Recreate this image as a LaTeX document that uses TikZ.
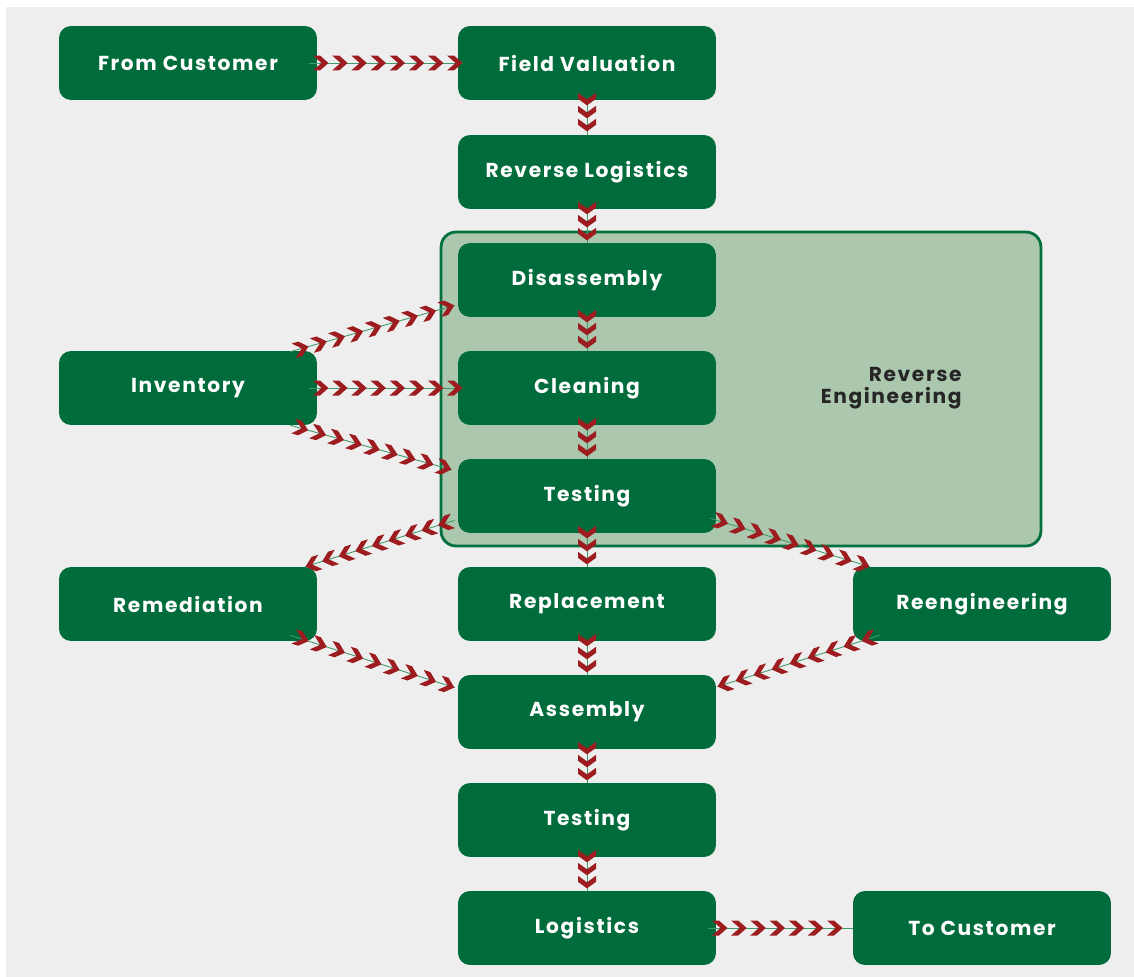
\documentclass[tikz,border=0pt]{standalone}
\usepackage{fontspec}
\setmainfont{Poppins}
\newfontfamily\boxfont{Poppins}[LetterSpace=8]
\usetikzlibrary{decorations.markings,calc}
\definecolor{bggray}{HTML}{EEEEEE}
\definecolor{boxgreen}{HTML}{006C3B}
\definecolor{regreen}{HTML}{ABC8AE}
\definecolor{reborder}{HTML}{00703C}
\definecolor{chevred}{HTML}{9C1C1F}
\definecolor{linegreen}{HTML}{3F9A6A}
% one chevron, tip at the mark
\newcommand\chevH{\fill[chevred] (0,0) -- (-0.17cm,0.15cm) -- (-0.31cm,0.15cm)
  -- (-0.14cm,0) -- (-0.31cm,-0.15cm) -- (-0.17cm,-0.15cm) -- cycle;}
\newcommand\chevV{\fill[chevred] (0,0) -- (-0.13cm,0.18cm) -- (-0.25cm,0.18cm)
  -- (-0.12cm,0) -- (-0.25cm,-0.18cm) -- (-0.13cm,-0.18cm) -- cycle;}
\tikzset{
  box/.style={fill=boxgreen,text=white,rounded corners=0.24cm,
    minimum width=5.16cm,minimum height=1.48cm,
    font=\boxfont\fontsize{11.5}{13}\selectfont\bfseries},
  hchain/.style={draw=linegreen,line width=0.5pt,postaction={decorate},
    decoration={markings,
      mark=between positions 0.999/#1 and 1 step 0.999/#1 with {\chevH}}},
  vchain/.style={draw=linegreen,line width=0.5pt,postaction={decorate},
    decoration={markings,
      mark=between positions 0.1cm and 1 step 0.26cm with {\chevV}}}
}
\begin{document}
\begin{tikzpicture}[x=0.02cm,y=-0.02cm]
\useasboundingbox (0,0) rectangle (1134,977);
\fill[bggray] (6,7) rectangle (1134,977);

% reverse engineering area
\node[fill=regreen,draw=reborder,line width=1.6pt,rounded corners=0.3cm,
  minimum width=12.0cm,minimum height=6.28cm] (rebox) at (741,389) {};
\node[align=right,anchor=east,text=black!85,inner sep=0pt,
  font=\boxfont\fontsize{11.5}{12.5}\selectfont\bfseries] (relabel) at (962,388)
  {Reverse\\Engineering};

% main column
\node[box] (fromc) at (188,63) {From Customer};
\node[box] (field) at (587,63) {Field Valuation};
\node[box] (revlog) at (587,172) {Reverse Logistics};
\node[box] (disas) at (587,280) {Disassembly};
\node[box] (clean) at (587,388) {Cleaning};
\node[box] (inv) at (188,388) {Inventory};
\node[box] (test) at (587,496) {Testing};
\node[box] (remed) at (188,604) {Remediation};
\node[box] (repl) at (587,604) {Replacement};
\node[box] (reeng) at (982,604) {Reengineering};
\node[box] (assem) at (587,712) {Assembly};
\node[box] (test2) at (587,820) {Testing};
\node[box] (logi) at (587,928) {Logistics};
\node[box] (toc) at (982,928) {To Customer};

% chevron chains
\draw[hchain=8] ($(fromc.east)+(-8,0)$) -- ($(field.west)+(5,0)$);
\draw[vchain] (field.south) -- (revlog.north);
\draw[vchain] (revlog.south) -- (disas.north);
\draw[vchain] (disas.south) -- (clean.north);
\draw[vchain] (clean.south) -- (test.north);
\draw[vchain] (test.south) -- (repl.north);
\draw[vchain] (repl.south) -- (assem.north);
\draw[vchain] (assem.south) -- (test2.north);
\draw[vchain] (test2.south) -- (logi.north);
\draw[hchain=8] ($(inv.east)+(-8,0)$) -- ($(clean.west)+(5,0)$);
\draw[hchain=9] ($(inv.north east)+(-27,1)$) -- ($(disas.south west)+(-3,-12)$);
\draw[hchain=9] ($(inv.south east)+(-27,0)$) -- ($(test.north west)+(-6,11)$);
\draw[hchain=9] ($(test.south west)+(-3,-13)$) -- ($(remed.north east)+(-12,0)$);
\draw[hchain=9] ($(test.south east)+(-6,-15)$) -- ($(reeng.north west)+(17,0)$);
\draw[hchain=9] ($(remed.south east)+(-27,-6)$) -- ($(assem.north west)+(-3,13)$);
\draw[hchain=9] ($(reeng.south west)+(27,-6)$) -- ($(assem.north east)+(1,12)$);
\draw[hchain=7] ($(logi.east)+(-8,0)$) -- ($(toc.west)+(-10,0)$);
\draw[linegreen,line width=0.5pt] ($(toc.west)+(-10,0)$) -- (toc.west);
\end{tikzpicture}
\end{document}
